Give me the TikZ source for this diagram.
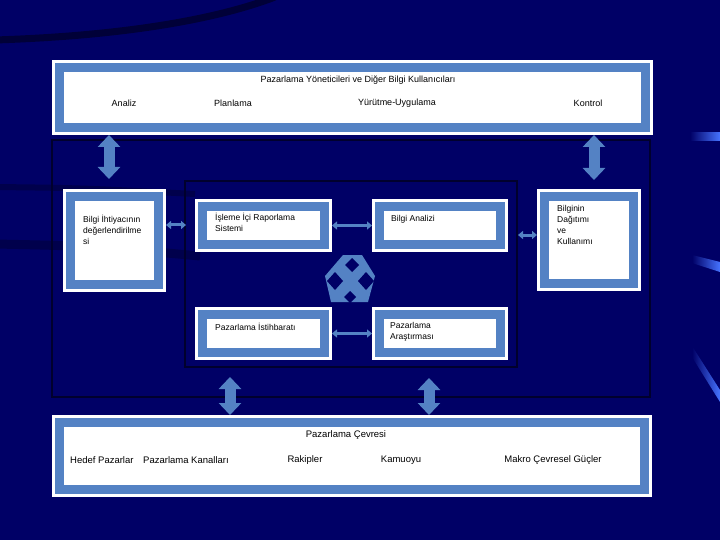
\documentclass[tikz,border=0pt]{standalone}
\usepackage{fontspec}
\setmainfont{Liberation Sans}
\usetikzlibrary{arrows.meta,positioning}

\definecolor{navy}{RGB}{0,0,102}
\definecolor{panel}{RGB}{84,130,196}
\definecolor{framedk}{RGB}{0,0,45}
\definecolor{glint}{RGB}{70,115,255}

\begin{document}
\begin{tikzpicture}[x=1pt,y=-1pt,
  box/.style 2 args={draw=white,line width=3pt,double=panel,double distance=9pt,fill=white,
    minimum width=#1,minimum height=#2,inner sep=0pt,outer sep=7.5pt},
  txt/.style={font=\fontsize{8.5}{11}\selectfont,align=left,inner sep=0pt,anchor=north west},
  hd/.style={font=\fontsize{9}{10}\selectfont,inner sep=0pt},
  ft/.style={font=\fontsize{9.5}{11}\selectfont,inner sep=0pt},
  bigarr/.style={{Triangle[width=22pt,length=12pt]}-{Triangle[width=22pt,length=12pt]},line width=11pt,panel},
  smallarr/.style={{Triangle[width=8pt,length=5pt]}-{Triangle[width=8pt,length=5pt]},line width=3pt,panel},
  frm/.style={draw=framedk,line width=1.5pt}]
  % background
  \useasboundingbox (0,0) rectangle (720,540);
  \clip (0,0) rectangle (720,540);
  \fill[navy] (0,0) rectangle (720,540);
  \draw[line width=7pt,black,opacity=.45] (-5,40) .. controls (120,36) and (215,20) .. (275,-3);
  \draw[line width=6pt,black,opacity=.25] (-5,187) .. controls (80,188) .. (195,194);
  \draw[line width=9pt,black,opacity=.25] (-5,244) .. controls (90,246) .. (200,256);
  \shade[left color=navy,right color=glint] (690,133) rectangle (720,141);
  \shade[left color=navy,right color=glint] (692,255) -- (720,262) -- (720,272) -- (692,263) -- cycle;
  \shade[left color=navy,right color=glint] (692,346) -- (720,390) -- (720,402) -- (692,357) -- cycle;

  % frames
  \draw[frm] (52,140) rectangle (650,397);
  \draw[frm] (185,181) rectangle (517,367);

  % boxes
  \node[box={586pt}{60pt}] (tbox) at (352.5,97.5) {};
  \node[box={88pt}{88pt}] (lbox) at (114.5,240.5) {};
  \node[box={89pt}{87pt}] (rbox) at (589,240) {};
  \node[box={122pt}{38pt}] (ibox) at (263.5,225.5) {};
  \node[box={121pt}{38pt}] (abox) at (440,225.5) {};
  \node[box={122pt}{38pt}] (pbox) at (263.5,333.5) {};
  \node[box={121pt}{38pt}] (sbox) at (440,333.5) {};
  \node[box={585pt}{67pt}] (bbox) at (352,456) {};

  % texts
  \node[hd] (ttl) at (358,80) {Pazarlama Yöneticileri ve Diğer Bilgi Kullanıcıları};
  \node[hd] (anz) at (124,103) {Analiz};
  \node[hd] (pln) at (233,103) {Planlama};
  \node[hd] (yur) at (397,103) {Yürütme-Uygulama};
  \node[hd] (knt) at (588,103) {Kontrol};
  \node[txt] (ltxt) at (83,215) {Bilgi İhtiyacının\\değerlendirilme\\si};
  \node[txt] (rtxt) at (557,205) {Bilginin\\Dağıtımı\\ve\\Kullanımı};
  \node[txt] (itxt) at (215,213) {İşleme İçi Raporlama\\Sistemi};
  \node[txt] (atxt) at (391,215) {Bilgi Analizi};
  \node[txt] (ptxt) at (215,323) {Pazarlama İstihbaratı};
  \node[txt] (stxt) at (390,322) {Pazarlama\\Araştırması};
  \node[ft] (cev) at (346,435) {Pazarlama Çevresi};
  \node[ft,anchor=west] (hdf) at (70,460) {Hedef Pazarlar};
  \node[ft,anchor=west] (kan) at (143,460) {Pazarlama Kanalları};
  \node[ft] (rak) at (305,460) {Rakipler};
  \node[ft] (kam) at (401,460) {Kamuoyu};
  \node[ft] (mak) at (553,460) {Makro Çevresel Güçler};

  % crossing mark
  \fill[panel] (343,255) -- (362,255) -- (375,276) -- (368,302) -- (331,302) -- (325,276) -- cycle;
  \fill[navy] (352,258) -- (359,265) -- (352,272) -- (345,265) -- cycle;
  \fill[navy] (335,272) -- (343,281) -- (335,290) -- (327,281) -- cycle;
  \fill[navy] (366,272) -- (374,281) -- (366,290) -- (358,281) -- cycle;
  \fill[navy] (350,291) -- (356,297) -- (350,303) -- (344,297) -- cycle;

  % arrows
  \coordinate (ca) at (109,179);
  \coordinate (cb) at (594,180);
  \coordinate (cc) at (230,377);
  \coordinate (cd) at (429,378);
  \coordinate (ce) at (186,225);
  \coordinate (cf) at (518,235);
  \draw[bigarr] (tbox.south -| ca) -- (ca);
  \draw[bigarr] (tbox.south -| cb) -- (cb);
  \draw[bigarr] (cc) -- (bbox.north -| cc);
  \draw[bigarr] (cd) -- (bbox.north -| cd);
  \draw[smallarr] (lbox.east |- ce) -- (ce);
  \draw[smallarr] (ibox) -- (abox);
  \draw[smallarr] (pbox) -- (sbox);
  \draw[smallarr] (cf) -- (rbox.west |- cf);
\end{tikzpicture}
\end{document}
